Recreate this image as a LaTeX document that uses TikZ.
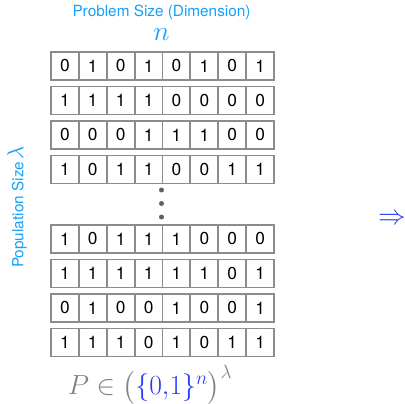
\documentclass[tikz,border=0pt]{standalone}
\usepackage{amsmath}
\usepackage{fontspec}
\newfontfamily\hel{TeX Gyre Heros}
\definecolor{lblue}{RGB}{20,160,250}
\definecolor{dblue}{RGB}{40,60,250}
\definecolor{cellgray}{RGB}{140,140,140}
\definecolor{fgray}{RGB}{130,130,130}
\definecolor{dotgray}{RGB}{95,95,95}
\begin{document}
\begin{tikzpicture}[x=0.75pt,y=-0.75pt,
  cell/.style={draw=cellgray,line width=1.4pt,minimum width=27.9*0.75pt,minimum height=28*0.75pt,inner sep=0pt,anchor=north west,font=\hel\fontsize{13}{14}\selectfont},
  lbl/.style={text=lblue,font=\hel\fontsize{11.5}{13}\selectfont,inner sep=0pt},
  dotm/.style={circle,fill=dotgray,inner sep=0pt,minimum size=5*0.75pt}]
\useasboundingbox (0,0) rectangle (405,404);
\node[lbl] (title) at (161.5,12) {Problem Size (Dimension)};
\node[text=lblue,inner sep=0pt] (n) at (161.5,35) {\fontsize{20}{20}\selectfont$n$};
\node[lbl,rotate=90,anchor=center] (pop) at (17,207) {Population Size\,{\fontsize{19}{19}\selectfont$\lambda$}};
\foreach \y/\r in {51/{0,1,0,1,0,1,0,1},85.5/{1,1,1,1,0,0,0,0},120/{0,0,0,1,1,1,0,0},154.5/{1,0,1,1,0,0,1,1},224/{1,0,1,1,1,0,0,0},258.5/{1,1,1,1,1,1,0,1},293/{0,1,0,0,1,0,0,1},327.5/{1,1,1,0,1,0,1,1}}{
  \foreach \v [count=\i from 0] in \r {
    \node[cell] (c\y-\i) at (50+27.9*\i,\y) {\v};
  }
}
\node[dotm] (d1) at (161.5,190) {};
\node[dotm] (d2) at (161.5,203.5) {};
\node[dotm] (d3) at (161.5,217) {};
\node[text=fgray,inner sep=0pt] (form) at (150,385) {\fontsize{20}{20}\selectfont$P\in\bigl(\textcolor{dblue}{\{0{,}1\}^n}\bigr)^{\lambda}$};
\node[text=dblue,inner sep=0pt] (arr) at (392,219) {\fontsize{20}{20}\selectfont$\Rightarrow$};
\end{tikzpicture}
\end{document}
